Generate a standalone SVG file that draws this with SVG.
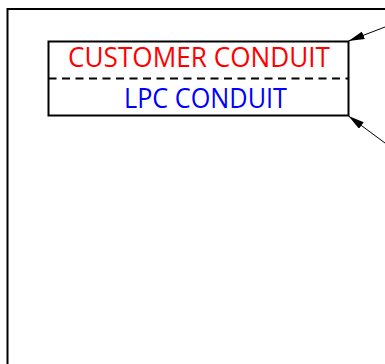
<svg xmlns="http://www.w3.org/2000/svg" width="385" height="364" viewBox="0 0 385 364">
<style>
.ln{stroke:#000;stroke-width:2;fill:none}
.thin{stroke:#000;stroke-width:1;fill:none}
.t{font-family:"Open Sans","Liberation Sans",sans-serif;font-size:26.5px;text-anchor:middle}
</style>
<defs>
<marker id="ah" viewBox="0 0 16 8" refX="16" refY="4" markerWidth="16" markerHeight="8" markerUnits="userSpaceOnUse" orient="auto">
<path d="M0,0 L16,4 L0,8 Z" fill="#000"/>
</marker>
</defs>
<rect width="385" height="364" fill="#fff"/>
<g id="frame">
<path class="ln" d="M7.5,364 V9 H385"/>
</g>
<g id="legend">
<rect class="ln" x="48.5" y="41.5" width="300" height="74"/>
<line class="ln" x1="48.5" y1="78.5" x2="348.5" y2="78.5" stroke-dasharray="8,5.5"/>
<text class="t" x="199" y="67" fill="#ff0000" textLength="262" lengthAdjust="spacingAndGlyphs">CUSTOMER CONDUIT</text>
<text class="t" x="205.5" y="107.5" fill="#0000ff" textLength="163" lengthAdjust="spacingAndGlyphs">LPC CONDUIT</text>
</g>
<g id="connectors">
<line class="thin" x1="385" y1="27" x2="348.5" y2="41" marker-end="url(#ah)"/>
<line class="thin" x1="385" y1="143" x2="348.5" y2="116" marker-end="url(#ah)"/>
</g>
</svg>
